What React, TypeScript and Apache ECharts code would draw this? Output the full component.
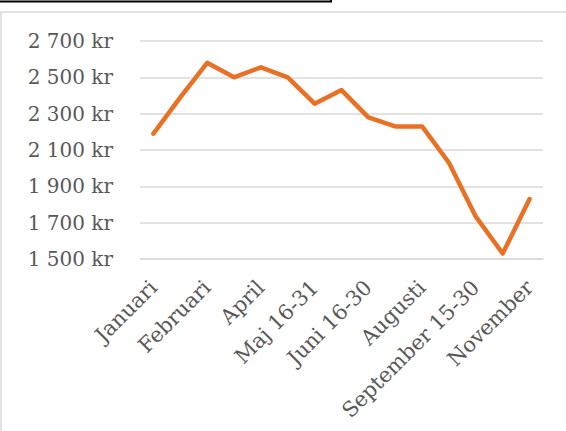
import React, { useEffect, useRef } from "react";
import * as echarts from "echarts";

const categories = [
  "Januari",
  "Januari 16-31",
  "Februari",
  "Mars",
  "April",
  "Maj 1-15",
  "Maj 16-31",
  "Juni 1-15",
  "Juni 16-30",
  "Juli",
  "Augusti",
  "September 1-14",
  "September 15-30",
  "Oktober",
  "November",
];

const prices = [2190, 2390, 2580, 2500, 2555, 2500, 2355, 2430, 2280, 2230, 2230, 2030, 1733, 1530, 1830];

const yMin = 1500;
const yMax = 2700;
const yStep = 200;

const fmt = (v: number) => {
  const s = String(Math.round(v));
  return s.replace(/\B(?=(\d{3})+(?!\d))/g, " ") + " kr";
};

export default function App() {
  const ref = useRef<HTMLDivElement>(null);
  useEffect(() => {
    if (!ref.current) return;
    const chart = echarts.init(ref.current, null, { renderer: "svg" });
    const font = "DejaVu Serif";
    chart.setOption({
      animation: false,
      backgroundColor: "#ffffff",
      graphic: [
        {
          type: "rect",
          shape: { x: 1, y: 12, width: 620, height: 500 },
          style: { fill: "none", stroke: "#d9d9d9", lineWidth: 1.5 },
          z: 0,
        },
        {
          type: "rect",
          shape: { x: -10, y: -20, width: 341, height: 21.5 },
          style: { fill: "none", stroke: "#000000", lineWidth: 2 },
          z: 0,
        },
      ],
      grid: { left: 140, right: 23, top: 41, bottom: 172, containLabel: false },
      xAxis: {
        type: "category",
        data: categories,
        boundaryGap: true,
        axisLine: { show: true, lineStyle: { color: "#d9d9d9", width: 1.5 } },
        axisTick: { show: false },
        axisLabel: {
          interval: 1,
          rotate: 45,
          margin: 25,
          color: "#595959",
          fontFamily: font,
          fontSize: 21,
        },
      },
      yAxis: {
        type: "value",
        min: yMin,
        max: yMax,
        interval: yStep,
        axisLine: { show: false },
        axisTick: { show: false },
        splitLine: { lineStyle: { color: "#d9d9d9", width: 1.5 } },
        axisLabel: {
          formatter: (v: number) => fmt(v),
          color: "#595959",
          fontFamily: font,
          fontSize: 20,
          margin: 27,
        },
      },
      series: [
        {
          type: "line",
          data: prices,
          showSymbol: false,
          symbol: "none",
          lineStyle: { color: "#e97125", width: 4.5, cap: "round", join: "round" },
        },
      ],
    });
    return () => chart.dispose();
  }, []);
  return (
    <div
      ref={ref}
      style={{ position: "fixed", left: 0, top: 0, width: 566, height: 431 }}
    />
  );
}
